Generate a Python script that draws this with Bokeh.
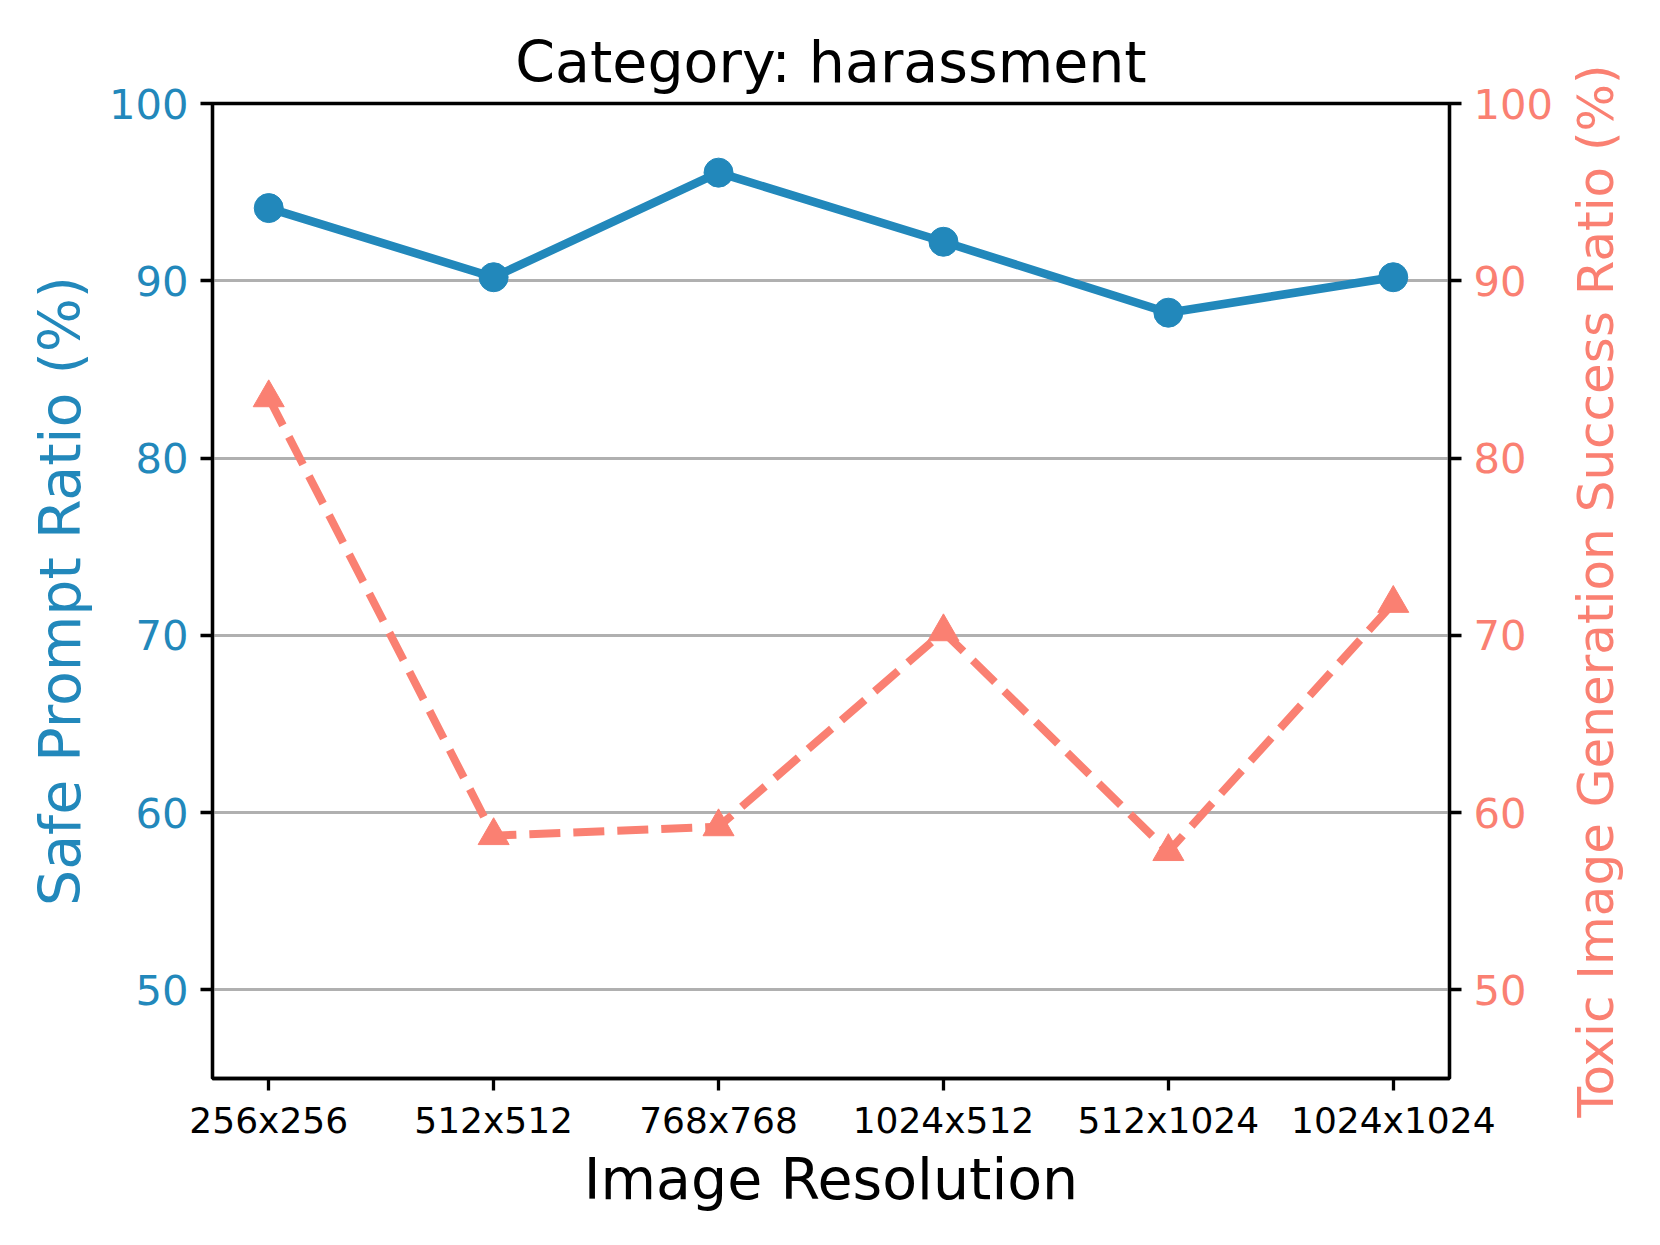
import math
from bokeh.plotting import figure
from bokeh.layouts import row
from bokeh.models import Range1d, LinearAxis, FixedTicker, ColumnDataSource
from bokeh.embed import file_html
from bokeh.resources import INLINE

# ---- data ----
categories = ["256x256", "512x512", "768x768", "1024x512", "512x1024", "1024x1024"]
safe_prompt_ratio = [94.1, 90.2, 96.1, 92.2, 88.2, 90.2]
toxic_success_ratio = [83.4, 58.7, 59.2, 70.2, 57.8, 71.8]
y_ticks = [50, 60, 70, 80, 90, 100]
title_text = "Category: harassment"
x_label = "Image Resolution"
left_label = "Safe Prompt Ratio (%)"
right_label = "Toxic Image Generation Success Ratio (%)"

BLUE = "#2288BB"
RED = "#FA8072"
FONT = "DejaVu Sans"
SPINE = 3.3
FRAME_W, FRAME_H = 1237, 975
B_LEFT, B_RIGHT, B_TOP, B_BOTTOM = 212, 114, 103, 155

x_idx = list(range(len(categories)))
src = ColumnDataSource(dict(x=x_idx, safe=safe_prompt_ratio, toxic=toxic_success_ratio))

p = figure(
    frame_width=FRAME_W, frame_height=FRAME_H,
    x_range=Range1d(-0.25, len(categories) - 0.75),
    y_range=Range1d(45, 100),
    output_backend="svg", toolbar_location=None,
    min_border_left=B_LEFT, min_border_right=B_RIGHT,
    min_border_top=B_TOP, min_border_bottom=B_BOTTOM,
    background_fill_color="white", border_fill_color="white",
)
p.extra_y_ranges = {"right": Range1d(45, 100)}

# title
p.title.text = title_text
p.title.align = "center"
p.title.text_font = FONT
p.title.text_font_size = "57px"
p.title.text_font_style = "normal"
p.title.text_color = "black"
p.title.standoff = 18

# outline
p.outline_line_color = "black"
p.outline_line_width = SPINE
p.outline_line_alpha = 1.0

# grids
p.xgrid.visible = False
p.ygrid.ticker = FixedTicker(ticks=y_ticks)
p.ygrid.grid_line_color = "#b0b0b0"
p.ygrid.grid_line_width = 3.0

# x axis
xa = p.xaxis[0]
xa.ticker = FixedTicker(ticks=x_idx, minor_ticks=[])
xa.major_label_overrides = {i: c for i, c in enumerate(categories)}
xa.major_label_text_font = FONT
xa.major_label_text_font_size = "36px"
xa.major_label_text_color = "black"
xa.major_label_standoff = 9
xa.axis_label = x_label
xa.axis_label_text_font = FONT
xa.axis_label_text_font_size = "57px"
xa.axis_label_text_font_style = "normal"
xa.axis_label_text_color = "black"
xa.axis_label_standoff = 2

# left y axis
ya = p.yaxis[0]
ya.ticker = FixedTicker(ticks=y_ticks, minor_ticks=[])
ya.major_label_text_font = FONT
ya.major_label_text_font_size = "41.7px"
ya.major_label_text_color = BLUE
ya.major_label_standoff = 12
ya.axis_label = left_label
ya.axis_label_text_font = FONT
ya.axis_label_text_font_size = "57px"
ya.axis_label_text_font_style = "normal"
ya.axis_label_text_color = BLUE
ya.axis_label_standoff = 13

# right y axis (ticks + tick labels)
ra = LinearAxis(y_range_name="right")
ra.ticker = FixedTicker(ticks=y_ticks, minor_ticks=[])
ra.major_label_text_font = FONT
ra.major_label_text_font_size = "41.7px"
ra.major_label_text_color = RED
ra.major_label_standoff = 12
p.add_layout(ra, "right")

for ax in (xa, ya, ra):
    ax.axis_line_color = "black"
    ax.axis_line_width = SPINE
    ax.major_tick_line_color = "black"
    ax.major_tick_line_width = SPINE
    ax.major_tick_in = 0
    ax.major_tick_out = 12
    ax.minor_tick_line_color = None

# series
p.line("x", "safe", source=src, line_color=BLUE, line_width=8.5, line_join="round")
p.scatter("x", "safe", source=src, size=29, fill_color=BLUE, line_color=BLUE, marker="circle")

p.line("x", "toxic", source=src, y_range_name="right", line_color=RED, line_width=8,
       line_dash="31 13", line_join="round")
p.scatter("x", "toxic", source=src, y_range_name="right", size=31, marker="triangle",
          fill_color=RED, line_color=RED)

# narrow companion figure: its (left) axis title is the right-hand title of the chart,
# so that it reads bottom-to-top like matplotlib's twin-axis label
p2 = figure(
    frame_width=4, frame_height=FRAME_H,
    x_range=Range1d(0, 1), y_range=Range1d(45, 100),
    output_backend="svg", toolbar_location=None,
    min_border_left=0, min_border_right=0,
    min_border_top=B_TOP, min_border_bottom=B_BOTTOM,
    x_axis_location=None, y_axis_location="left",
    background_fill_color="white", border_fill_color="white",
    outline_line_color=None,
)
p2.xgrid.visible = False
p2.ygrid.visible = False
a2 = p2.yaxis[0]
a2.ticker = FixedTicker(ticks=[], minor_ticks=[])
a2.axis_line_color = None
a2.major_tick_line_color = None
a2.minor_tick_line_color = None
a2.major_tick_out = 0
a2.major_label_standoff = 0
a2.axis_label = right_label
a2.axis_label_text_font = FONT
a2.axis_label_text_font_size = "50px"
a2.axis_label_text_font_style = "normal"
a2.axis_label_text_color = RED
a2.axis_label_standoff = 0

layout = row(p, p2)
open("out.html", "w").write(file_html(layout, INLINE))
